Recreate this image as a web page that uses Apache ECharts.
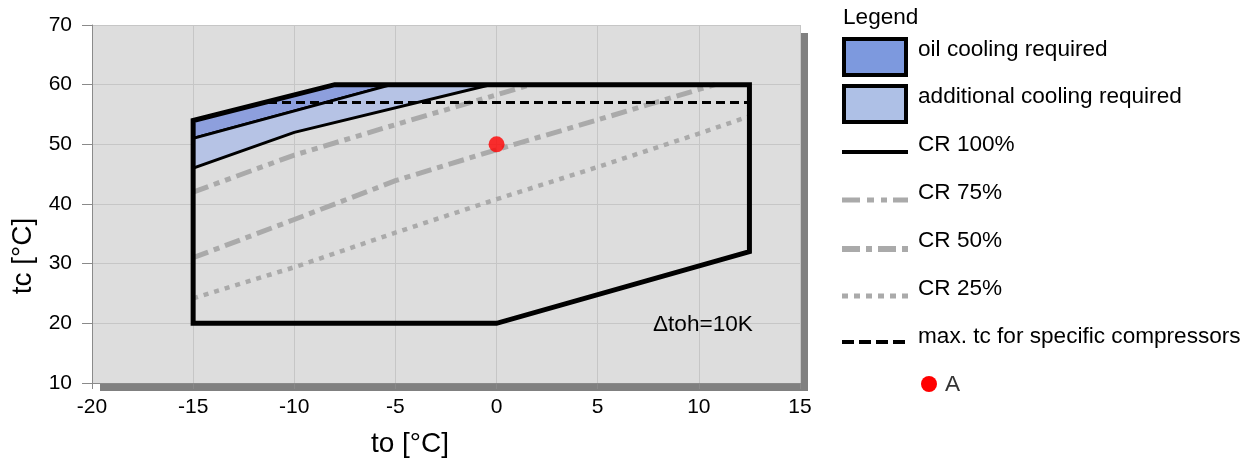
<!DOCTYPE html>
<html>
<head>
<meta charset="utf-8">
<script src="https://cdn.jsdelivr.net/npm/echarts@6.0.0/dist/echarts.min.js"></script>
<style>
html,body{margin:0;padding:0;background:#ffffff;}
#chart{width:1253px;height:459px;}
</style>
</head>
<body>
<div id="chart"></div>
<script>
// ---- data (to [°C], tc [°C]) ----
const envelopeTo = [-15, 0, 12.5, 12.5, -8, -15, -15];
const envelopeTc = [20, 20, 32, 60, 60, 54, 20];

const oilTo = [-15, -8, -5.2, -15];
const oilTc = [54, 60, 60, 51];

const addTo = [-15, -5.2, -0.3, -10, -15];
const addTc = [51, 60, 60, 52, 46];

const cr75To = [-15, -10, -5, 0, 1.7];
const cr75Tc = [42, 48.2, 53.3, 58.3, 60];

const cr50To = [-15, -10, -5, 0, 5, 10, 10.8];
const cr50Tc = [31, 37.4, 43.9, 49.1, 54.1, 59.2, 60];

const cr25To = [-15, -10, -5, 0, 5, 10, 12.5];
const cr25Tc = [24.2, 29.4, 35.2, 40.8, 46.2, 51.8, 54.7];

const maxTcTo = [-11.3, 12.5];
const maxTcTc = [57, 57];

const pointATo = [0];
const pointATc = [50];

const legendLabels = ['oil cooling required', 'additional cooling required', 'CR 100%', 'CR 75%', 'CR 50%', 'CR 25%', 'max. tc for specific compressors', 'A'];
const annotation = 'Δtoh=10K';

// ---- build ----
const FONT = '"Liberation Sans", Arial, Helvetica, sans-serif';
const pairs = (xs, ys) => xs.map((x, i) => [x, ys[i]]);

function polySeries(name, xs, ys, fill) {
  const data = pairs(xs, ys);
  return {
    type: 'custom', name: name, data: data, z: 2, silent: true,
    renderItem: function (params, api) {
      if (params.dataIndex !== 0) return null;
      const pts = data.map(d => api.coord(d));
      return { type: 'polygon', shape: { points: pts },
        style: { fill: fill, stroke: '#000000', lineWidth: 3, lineJoin: 'miter' } };
    }
  };
}

function lineSeries(name, xs, ys, color, width, type, z, cap) {
  return {
    type: 'line', name: name, data: pairs(xs, ys), symbol: 'none', silent: true, z: z,
    animation: false,
    lineStyle: { color: color, width: width, type: type, cap: cap || 'butt', join: 'miter' }
  };
}

const chart = echarts.init(document.getElementById('chart'), null, { renderer: 'canvas' });

const lx = 842, lw = 66, tx = 918;
const txt = (x, y, s, fill) => ({ type: 'text', x: x, y: y, z: 100,
  style: { text: s, font: '22.6px ' + FONT, fill: fill || '#000', textVerticalAlign: 'middle' } });
const legendGraphic = [
  txt(843, 18, 'Legend'),
  { type: 'rect', z: 100, shape: { x: lx + 2, y: 39, width: lw - 4, height: 36 }, style: { fill: '#7d99de', stroke: '#000', lineWidth: 4 } },
  txt(tx, 50, legendLabels[0]),
  { type: 'rect', z: 100, shape: { x: lx + 2, y: 86, width: lw - 4, height: 36 }, style: { fill: '#aec0e6', stroke: '#000', lineWidth: 4 } },
  txt(tx, 97, legendLabels[1]),
  { type: 'line', z: 100, shape: { x1: lx, y1: 152, x2: lx + lw, y2: 152 }, style: { stroke: '#000', lineWidth: 4 } },
  txt(tx, 145, legendLabels[2]),
  { type: 'line', z: 100, shape: { x1: lx, y1: 200, x2: lx + lw, y2: 200 }, style: { stroke: '#aaaaaa', lineWidth: 5, lineDash: [18, 7, 7, 7, 6, 6] } },
  txt(tx, 193, legendLabels[3]),
  { type: 'line', z: 100, shape: { x1: lx, y1: 249, x2: lx + lw, y2: 249 }, style: { stroke: '#aaaaaa', lineWidth: 6, lineDash: [18, 6, 6, 6] } },
  txt(tx, 241, legendLabels[4]),
  { type: 'line', z: 100, shape: { x1: lx, y1: 296, x2: lx + lw, y2: 296 }, style: { stroke: '#aaaaaa', lineWidth: 5, lineDash: [6, 6] } },
  txt(tx, 289, legendLabels[5]),
  { type: 'line', z: 100, shape: { x1: lx, y1: 342, x2: lx + lw, y2: 342 }, style: { stroke: '#000', lineWidth: 4, lineDash: [12, 5] } },
  txt(tx, 337, legendLabels[6]),
  { type: 'circle', z: 100, shape: { cx: 929, cy: 384, r: 8 }, style: { fill: '#ff0000' } },
  txt(945, 385, legendLabels[7], '#333'),
  txt(653, 325, annotation)
];

const option = {
  animation: false,
  backgroundColor: '#ffffff',
  textStyle: { fontFamily: FONT },
  grid: {
    left: 92, right: 453, top: 25, bottom: 76,
    outerBoundsMode: 'none',
    show: true, backgroundColor: '#dddddd', borderWidth: 0,
    shadowColor: '#808080', shadowBlur: 0, shadowOffsetX: 8, shadowOffsetY: 8
  },
  xAxis: {
    type: 'value', min: -20, max: 15, interval: 5,
    name: 'to [°C]', nameLocation: 'middle', nameGap: 47,
    nameTextStyle: { fontSize: 28, color: '#000', fontFamily: FONT, padding: [0, 72, 0, 0] },
    axisLine: { show: true, onZero: false, lineStyle: { color: '#8a8a8a', width: 1 } },
    axisTick: { show: true, length: 6, lineStyle: { color: '#8a8a8a' } },
    axisLabel: { color: '#000', fontSize: 21, margin: 14, fontFamily: FONT },
    splitLine: { show: true, lineStyle: { color: '#c6c6c6', width: 1 } }
  },
  yAxis: {
    type: 'value', min: 10, max: 70, interval: 10,
    name: 'tc [°C]', nameLocation: 'middle', nameGap: 52,
    nameTextStyle: { fontSize: 28, color: '#000', fontFamily: FONT, padding: [0, 104, 0, 0] },
    axisLine: { show: true, onZero: false, lineStyle: { color: '#8a8a8a', width: 1 } },
    axisTick: { show: true, length: 10, lineStyle: { color: '#8a8a8a' } },
    axisLabel: { color: '#000', fontSize: 21, margin: 20, fontFamily: FONT },
    splitLine: { show: true, lineStyle: { color: '#c6c6c6', width: 1 } }
  },
  graphic: legendGraphic,
  series: [
    polySeries(legendLabels[0], oilTo, oilTc, '#8d9fdd'),
    polySeries(legendLabels[1], addTo, addTc, '#b6c3e5'),
    lineSeries(legendLabels[5], cr25To, cr25Tc, '#aaaaaa', 4.5, [5, 6], 3),
    lineSeries(legendLabels[4], cr50To, cr50Tc, '#aaaaaa', 5, [16, 6, 6, 6], 3),
    lineSeries(legendLabels[3], cr75To, cr75Tc, '#aaaaaa', 5, [16, 6, 6, 6, 6, 6], 3),
    lineSeries(legendLabels[6], maxTcTo, maxTcTc, '#000000', 3, [9, 5], 4),
    lineSeries(legendLabels[2], envelopeTo, envelopeTc, '#000000', 5, 'solid', 5, 'square'),
    {
      type: 'scatter', name: legendLabels[7], data: pairs(pointATo, pointATc), z: 6,
      symbol: 'circle', symbolSize: 16, itemStyle: { color: '#ff0000' }, silent: true
    }
  ]
};
chart.setOption(option);
</script>
</body>
</html>
